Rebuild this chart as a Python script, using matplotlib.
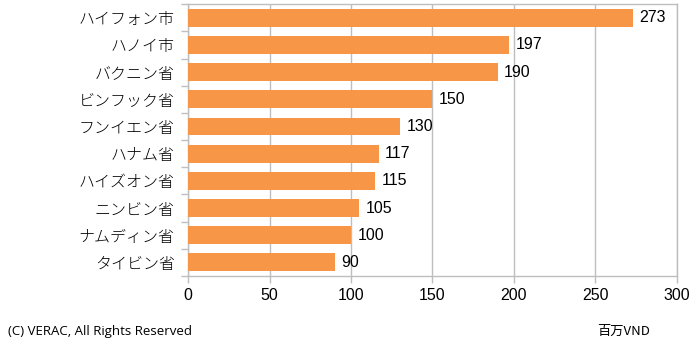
import matplotlib
import matplotlib.pyplot as plt
import numpy as np

matplotlib.use("agg")

# data
provinces = ["ハイフォン市", "ハノイ市", "バクニン省", "ビンフック省", "フンイエン省",
             "ハナム省", "ハイズオン省", "ニンビン省", "ナムディン省", "タイビン省"]
values = [273, 197, 190, 150, 130, 117, 115, 105, 100, 90]
xticks = [0, 50, 100, 150, 200, 250, 300]

bar_color = "#F79646"
grid_color = "#BEBEBE"
num_font = ["Liberation Sans", "DejaVu Sans"]
jp_font = ["Noto Sans CJK JP", "DejaVu Sans"]

fig = plt.figure(figsize=(7, 3.45), dpi=100)
ax = fig.add_axes([0.2686, 0.2, 0.6985, 0.788])

y = np.arange(len(provinces))
ax.barh(y, values, height=0.66, color=bar_color, zorder=3)

# value labels
for yi, v in zip(y, values):
    ax.text(v + 4, yi, str(v), va="center", ha="left", fontsize=11.5,
            family=num_font, color="#000000")

ax.set_xlim(0, 300)
ax.set_ylim(len(provinces) - 0.5, -0.5)
ax.set_xticks(xticks)
ax.set_xticklabels([str(t) for t in xticks], fontsize=11.5, family=num_font)
ax.set_yticks(y)
ax.set_yticklabels(provinces, fontsize=11.5, family=jp_font, fontweight="light")

# y tick marks sit between categories
ax.set_yticks(np.arange(-0.5, len(provinces), 1), minor=True)
ax.tick_params(axis="y", which="major", length=0, pad=9.5)
ax.tick_params(axis="y", which="minor", length=5, color=grid_color, width=1)
ax.tick_params(axis="x", length=5, color=grid_color, width=1, pad=4)

ax.grid(axis="x", color=grid_color, linewidth=1, zorder=0)
for side in ["top", "right", "bottom", "left"]:
    ax.spines[side].set_color(grid_color)
    ax.spines[side].set_linewidth(1)

fig.text(8 / 700, 1 - 331 / 345, "(C) VERAC, All Rights Reserved", fontsize=9.5,
         family=["Open Sans", "DejaVu Sans"], va="center", ha="left")
fig.text(650 / 700, 1 - 331 / 345, "百万VND", fontsize=9.5,
         family=jp_font, va="center", ha="right")

fig.savefig("out.png", dpi=100)
